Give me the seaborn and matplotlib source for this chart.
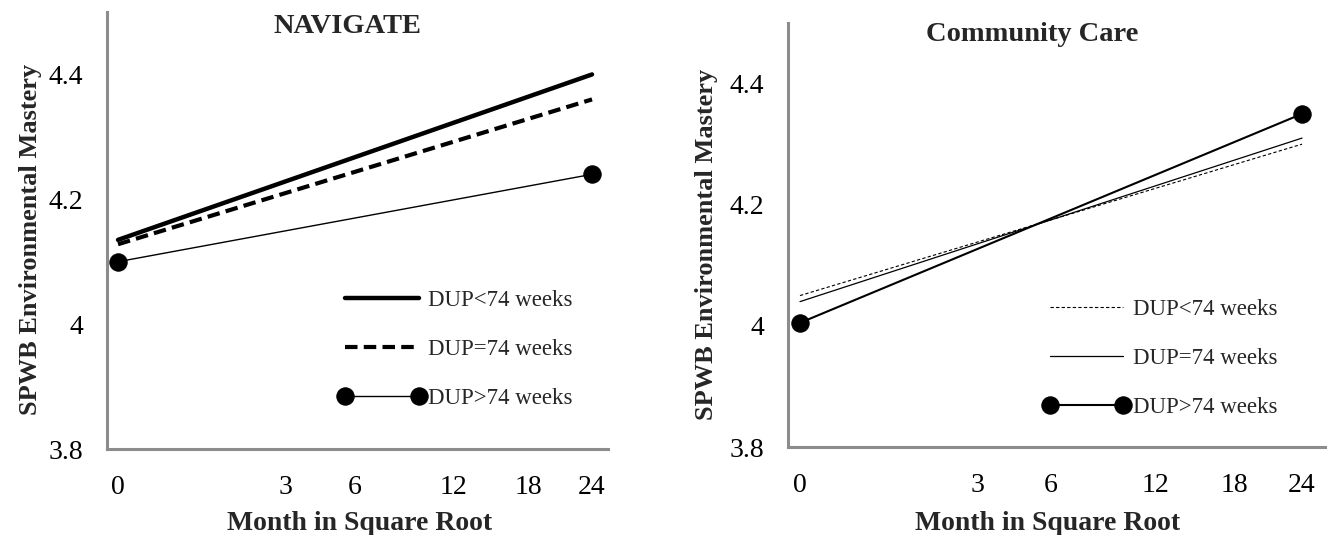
import numpy as np
import pandas as pd
import matplotlib
matplotlib.use("Agg")
import matplotlib.pyplot as plt
import seaborn as sns
from matplotlib.legend_handler import HandlerLine2D

# data (x = months, plotted on a square-root axis)
months = [0, 24]
tick_months = [0, 3, 6, 12, 18, 24]
groups = ["DUP<74 weeks", "DUP=74 weeks", "DUP>74 weeks"]

navigate_lt = [4.135, 4.40]
navigate_eq = [4.128, 4.36]
navigate_gt = [4.10, 4.24]

community_lt = [4.05, 4.30]
community_eq = [4.04, 4.31]
community_gt = [4.005, 4.35]

y_ticks = [3.8, 4.0, 4.2, 4.4]
y_tick_labels = ["3.8", "4", "4.2", "4.4"]

sns.set_theme(style="white")
plt.rcParams["font.family"] = ["Liberation Serif", "DejaVu Serif"]

SPINE = "#8c8c8c"


def make_df(lt, eq, gt):
    rows = []
    for g, vals in zip(groups, [lt, eq, gt]):
        for m, v in zip(months, vals):
            rows.append({"month": np.sqrt(m), "value": v, "group": g})
    return pd.DataFrame(rows)


def draw_panel(ax, df, styles, title, title_xy, xlim, leg_anchor, ylab_xy, xlab_xy):
    for g in groups:
        sub = df[df["group"] == g]
        sns.lineplot(data=sub, x="month", y="value", ax=ax, color="black",
                     label=g, legend=False, **styles[g])
    ax.set_xlim(*xlim)
    ax.set_ylim(3.8, 4.5)
    ax.set_xticks(np.sqrt(tick_months))
    ax.set_xticklabels([str(m) for m in tick_months])
    ax.set_yticks(y_ticks)
    ax.set_yticklabels(y_tick_labels)
    ax.tick_params(axis="both", length=0, labelsize=20, colors="black")
    ax.tick_params(axis="x", pad=19)
    ax.tick_params(axis="y", pad=17)
    for s in ["top", "right"]:
        ax.spines[s].set_visible(False)
    for s in ["left", "bottom"]:
        ax.spines[s].set_color(SPINE)
        ax.spines[s].set_linewidth(2.2)
    ax.grid(False)
    ax.set_ylabel("SPWB Environmental Mastery", fontsize=19, fontweight="bold")
    ax.set_xlabel("Month in Square Root", fontsize=20, fontweight="bold")
    ax.yaxis.set_label_coords(*ylab_xy)
    ax.xaxis.set_label_coords(*xlab_xy)
    ax.text(title_xy[0], title_xy[1], title, transform=ax.transAxes,
            ha="center", va="center", fontsize=20.5, fontweight="bold")
    handles, labels = ax.get_legend_handles_labels()
    ax.legend(handles, labels, loc="upper left", bbox_to_anchor=leg_anchor,
              frameon=False, fontsize=16.5, numpoints=2, handlelength=3.2,
              handletextpad=0.4, labelspacing=1.22, borderpad=0, borderaxespad=0,
              handler_map={matplotlib.lines.Line2D: HandlerLine2D(marker_pad=0)})


fig = plt.figure(figsize=(13.32, 5.35), dpi=100)
ax1 = fig.add_axes([107 / 1332, 1 - 449 / 535, 501 / 1332, 437 / 535])
ax2 = fig.add_axes([788 / 1332, 1 - 447 / 535, 537 / 1332, 424 / 535])

left_styles = {
    "DUP<74 weeks": dict(linewidth=3.2, linestyle="-"),
    "DUP=74 weeks": dict(linewidth=3.0, linestyle=(0, (3, 1.5))),
    "DUP>74 weeks": dict(linewidth=1.0, marker="o", markersize=12.5,
                         markeredgecolor="black", markerfacecolor="black"),
}
right_styles = {
    "DUP<74 weeks": dict(linewidth=0.8, linestyle=(0, (3, 2))),
    "DUP=74 weeks": dict(linewidth=0.9, linestyle="-"),
    "DUP>74 weeks": dict(linewidth=1.5, marker="o", markersize=12.5,
                         markeredgecolor="black", markerfacecolor="black"),
}

draw_panel(ax1, make_df(navigate_lt, navigate_eq, navigate_gt), left_styles,
           "NAVIGATE", (0.48, 0.966), (-0.114, 5.064), (0.476, 0.364),
           (-0.13, 0.48), (0.505, -0.142))
draw_panel(ax2, make_df(community_lt, community_eq, community_gt), right_styles,
           "Community Care", (0.454, 0.974), (-0.117, 5.123), (0.488, 0.348),
           (-0.13, 0.479), (0.484, -0.151))

fig.savefig("out.png", dpi=100, facecolor="white")
